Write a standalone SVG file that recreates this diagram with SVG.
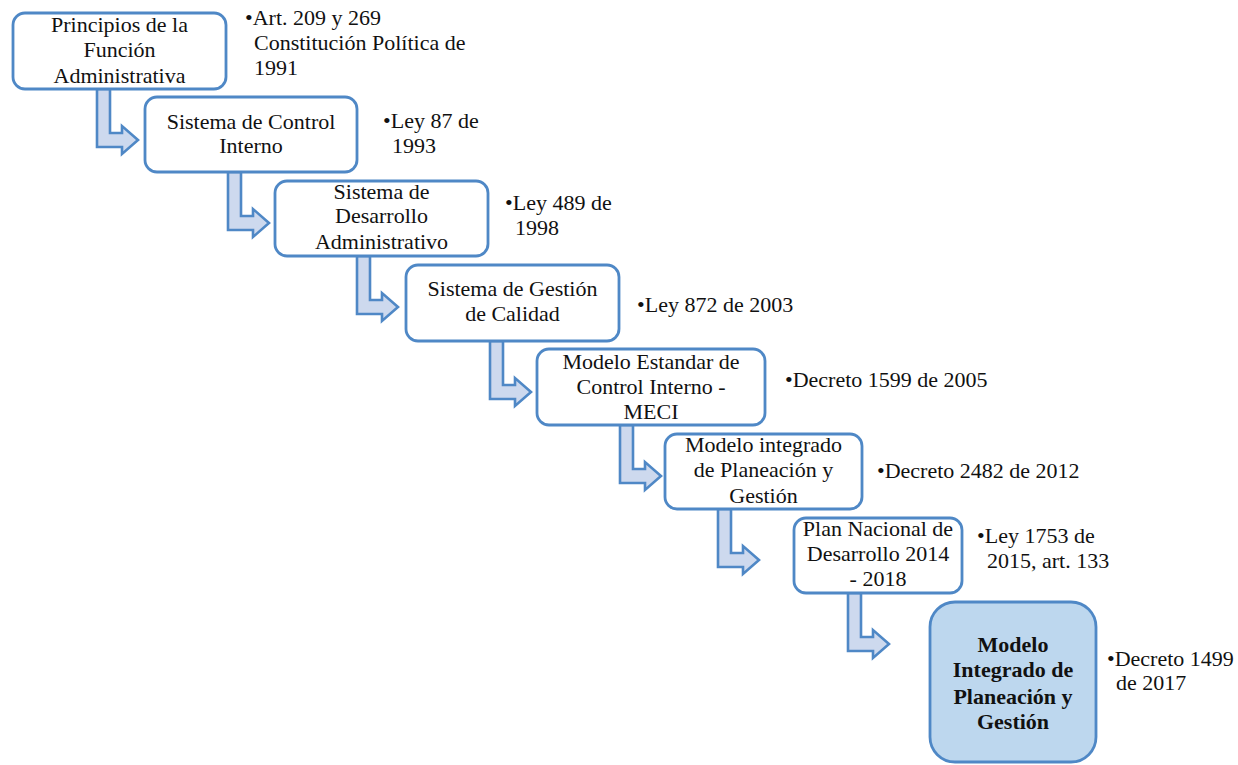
<svg xmlns="http://www.w3.org/2000/svg" width="1238" height="765" viewBox="0 0 1238 765">
<defs>
<style>
.box{fill:#ffffff;stroke:#4f88c6;stroke-width:2.8}
.final{fill:#bdd7ee;stroke:#4f88c6;stroke-width:2.8}
.arr{fill:#cdd9ee;stroke:#4f88c6;stroke-width:2.6;stroke-linejoin:miter}
text{font-size:22px;fill:#111111}
.c{text-anchor:middle}
.b{font-weight:bold}
</style>
<path id="arrow" d="M0,0 L13,0 L13,44 L25,44 L25,37 L41,51 L25,65 L25,58 L0,58 Z"/>
</defs>
<rect width="1238" height="765" fill="#ffffff"/>
<g id="connectors">
<use href="#arrow" class="arr" x="97" y="89"/>
<use href="#arrow" class="arr" x="228" y="172"/>
<use href="#arrow" class="arr" x="357" y="256"/>
<use href="#arrow" class="arr" x="490" y="341"/>
<use href="#arrow" class="arr" x="620" y="425"/>
<use href="#arrow" class="arr" x="718" y="509"/>
<use href="#arrow" class="arr" x="848" y="593"/>
</g>
<g font-family="Liberation Serif, serif">
<g id="n1">
<rect class="box" x="13" y="13" width="213" height="76" rx="12"/>
<text class="c" x="119.5" y="32">Principios de la</text>
<text class="c" x="119.5" y="57">Función</text>
<text class="c" x="119.5" y="83">Administrativa</text>
</g>
<g id="n2">
<rect class="box" x="145" y="97" width="212" height="75" rx="12"/>
<text class="c" x="251" y="129">Sistema de Control</text>
<text class="c" x="251" y="153">Interno</text>
</g>
<g id="n3">
<rect class="box" x="275" y="181" width="213" height="75" rx="12"/>
<text class="c" x="381.5" y="199">Sistema de</text>
<text class="c" x="381.5" y="223">Desarrollo</text>
<text class="c" x="381.5" y="249">Administrativo</text>
</g>
<g id="n4">
<rect class="box" x="406" y="265" width="213" height="76" rx="12"/>
<text class="c" x="512.5" y="296">Sistema de Gestión</text>
<text class="c" x="512.5" y="321">de Calidad</text>
</g>
<g id="n5">
<rect class="box" x="537" y="349" width="228" height="76" rx="12"/>
<text class="c" x="651" y="369">Modelo Estandar de</text>
<text class="c" x="651" y="394">Control Interno -</text>
<text class="c" x="651" y="419">MECI</text>
</g>
<g id="n6">
<rect class="box" x="665" y="434" width="197" height="75" rx="12"/>
<text class="c" x="763.5" y="452">Modelo integrado</text>
<text class="c" x="763.5" y="477">de Planeación y</text>
<text class="c" x="763.5" y="503">Gestión</text>
</g>
<g id="n7">
<rect class="box" x="794" y="518" width="168" height="75" rx="12"/>
<text class="c" x="878" y="536">Plan Nacional de</text>
<text class="c" x="878" y="561">Desarrollo 2014</text>
<text class="c" x="878" y="586">- 2018</text>
</g>
<g id="n8">
<rect class="final" x="930" y="602" width="166" height="160" rx="25"/>
<text class="c b" x="1013" y="652">Modelo</text>
<text class="c b" x="1013" y="677">Integrado de</text>
<text class="c b" x="1013" y="704">Planeación y</text>
<text class="c b" x="1013" y="729">Gestión</text>
</g>
<g id="labels">
<text x="245" y="25">•Art. 209 y 269</text>
<text x="254" y="50">Constitución Política de</text>
<text x="254" y="75">1991</text>
<text x="383" y="128">•Ley 87 de</text>
<text x="392" y="153">1993</text>
<text x="505" y="210">•Ley 489 de</text>
<text x="515" y="235">1998</text>
<text x="637" y="312">•Ley 872 de 2003</text>
<text x="785" y="387">•Decreto 1599 de 2005</text>
<text x="877" y="478">•Decreto 2482 de 2012</text>
<text x="977" y="543">•Ley 1753 de</text>
<text x="987" y="568">2015, art. 133</text>
<text x="1107" y="666">•Decreto 1499</text>
<text x="1116" y="690">de 2017</text>
</g>
</g>
</svg>
